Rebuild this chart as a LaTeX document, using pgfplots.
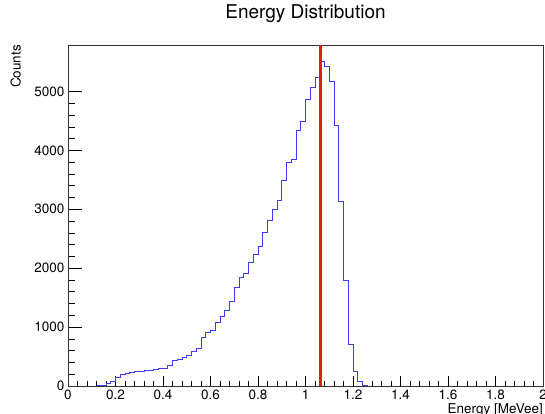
\documentclass[border=0pt]{standalone}
\usepackage{fontspec}
\setmainfont{TeX Gyre Heros}
\usepackage{pgfplots}
\pgfplotsset{compat=1.18}

\definecolor{histblue}{RGB}{60,60,255}
\definecolor{cutred}{RGB}{228,30,20}

% bin left edge, counts (bin width 0.02)
\pgfplotstableread{
x     y
0.12  0
0.14  15
0.16  50
0.18  75
0.20  150
0.22  190
0.24  220
0.26  235
0.28  240
0.30  245
0.32  255
0.34  270
0.36  285
0.38  290
0.40  300
0.42  355
0.44  425
0.46  450
0.48  480
0.50  515
0.52  585
0.54  645
0.56  820
0.58  904
0.60  938
0.62  1073
0.64  1186
0.66  1285
0.68  1443
0.70  1670
0.72  1836
0.74  1910
0.76  2100
0.78  2231
0.80  2373
0.82  2600
0.84  2808
0.86  2994
0.88  3150
0.90  3497
0.92  3795
0.94  3850
0.96  4336
0.98  4483
1.00  4860
1.02  5060
1.04  5241
1.06  5517
1.08  5420
1.10  5175
1.12  4420
1.14  3137
1.16  1798
1.18  700
1.20  243
1.22  80
1.24  15
1.26  0
}\energy

\begin{document}
\begin{tikzpicture}
\path[use as bounding box] (-68pt,-28pt) rectangle (477pt,386pt);
\begin{axis}[
  scale only axis,
  width=475pt, height=341pt,
  xmin=0, xmax=2, ymin=0, ymax=5790,
  xtick={0,0.2,...,2.01},
  ytick={0,1000,...,5000},
  minor x tick num=4,
  minor y tick num=4,
  xtick pos=bottom, ytick pos=left,
  tick align=inside,
  xtick style={/pgfplots/major tick length=10pt, /pgfplots/minor tick length=5pt, black, line width=0.6pt},
  ytick style={/pgfplots/major tick length=14pt, /pgfplots/minor tick length=7pt, black, line width=0.6pt},
  axis line style={black!80, line width=0.7pt},
  scaled y ticks=false,
  /pgf/number format/1000 sep={},
  /pgf/number format/assume math mode=true,
  tick label style={font=\fontsize{13.5}{16}\selectfont},
  title={Energy Distribution},
  title style={at={(axis description cs:0.5,1)}, anchor=base, yshift=20pt, font=\fontsize{19}{22}\selectfont},
  xlabel={Energy [MeVee]},
  xlabel style={at={(axis description cs:1,0)}, anchor=north east, inner sep=0pt, yshift=-17pt, font=\fontsize{13.5}{16}\selectfont},
  ylabel={Counts},
  ylabel style={at={(axis description cs:-0.099,1)}, anchor=south east, inner sep=0pt, font=\fontsize{13.5}{16}\selectfont},
]
\addplot[const plot mark left, draw=histblue, line width=1pt] table[x=x, y=y] {\energy};
\addplot[draw=cutred, line width=2.6pt] coordinates {(1.062,0) (1.062,5790)};
\end{axis}
\end{tikzpicture}
\end{document}
